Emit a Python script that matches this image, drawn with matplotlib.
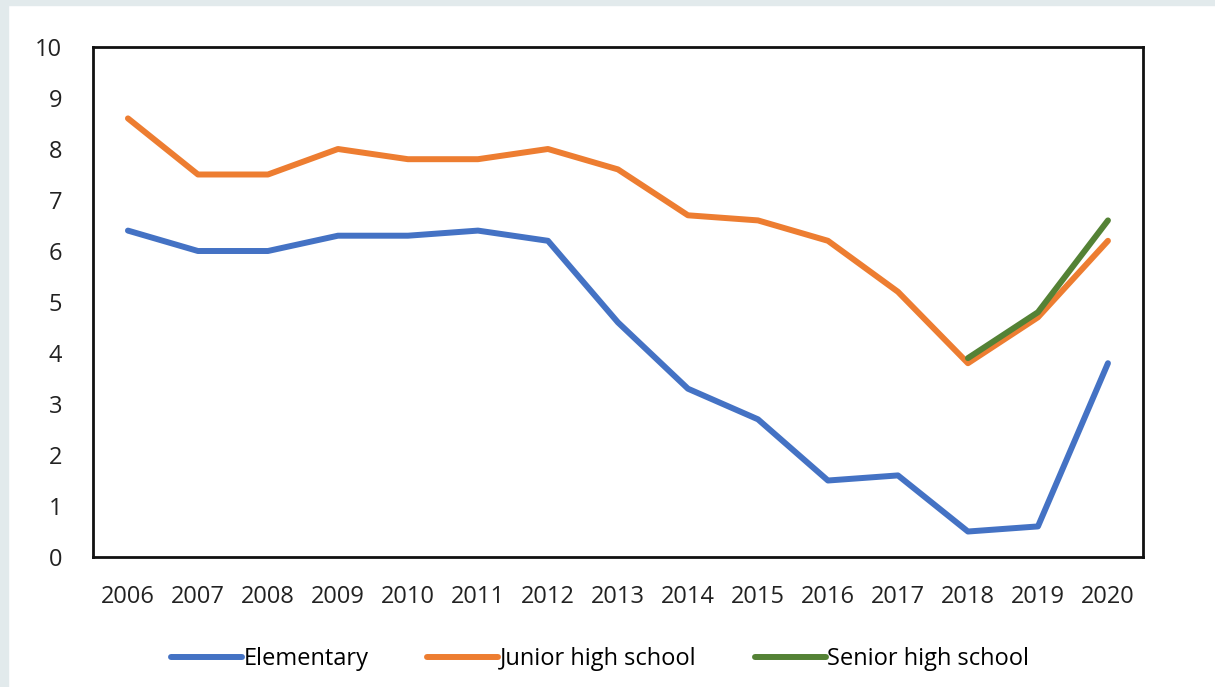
import matplotlib.pyplot as plt
from matplotlib.patches import Rectangle

years = list(range(2006, 2021))
elementary = [6.4, 6.0, 6.0, 6.3, 6.3, 6.4, 6.2, 4.6, 3.3, 2.7, 1.5, 1.6, 0.5, 0.6, 3.8]
junior_high = [8.6, 7.5, 7.5, 8.0, 7.8, 7.8, 8.0, 7.6, 6.7, 6.6, 6.2, 5.2, 3.8, 4.7, 6.2]
senior_years = [2018, 2019, 2020]
senior_high = [3.9, 4.8, 6.6]

plt.rcParams['font.family'] = ['Open Sans', 'DejaVu Sans']

fig = plt.figure(figsize=(12.15, 6.87), dpi=100)
# light grey frame strips on the left and top
fig.patches.append(Rectangle((0, 0), 8 / 1215, 1, transform=fig.transFigure, color='#e2eaec', zorder=0))
fig.patches.append(Rectangle((0, 1 - 5 / 687), 1, 5 / 687, transform=fig.transFigure, color='#e2eaec', zorder=0))

ax = fig.add_axes([0.0765, 0.1892, 0.8642, 0.7424])
ax.plot(years, elementary, color='#4472c4', lw=4.3, solid_capstyle='round', label='Elementary')
ax.plot(years, junior_high, color='#ed7d31', lw=4.3, solid_capstyle='round', label='Junior high school')
ax.plot(senior_years, senior_high, color='#548235', lw=4.3, solid_capstyle='round', label='Senior high school')

ax.set_xlim(2005.5, 2020.5)
ax.set_ylim(0, 10)
ax.set_xticks(years)
ax.set_yticks(range(0, 11))
ax.tick_params(length=0, labelsize=17, colors='#222222')
ax.tick_params(axis='x', pad=20)
ax.tick_params(axis='y', pad=22)
for s in ax.spines.values():
    s.set_linewidth(2)
    s.set_color('#111111')

leg = fig.legend(loc='center', bbox_to_anchor=(0.494, 0.041), ncol=3, frameon=False,
                 fontsize=17, handlelength=3.0, handletextpad=0.05, columnspacing=2.5)

fig.savefig('out.png', dpi=100)
